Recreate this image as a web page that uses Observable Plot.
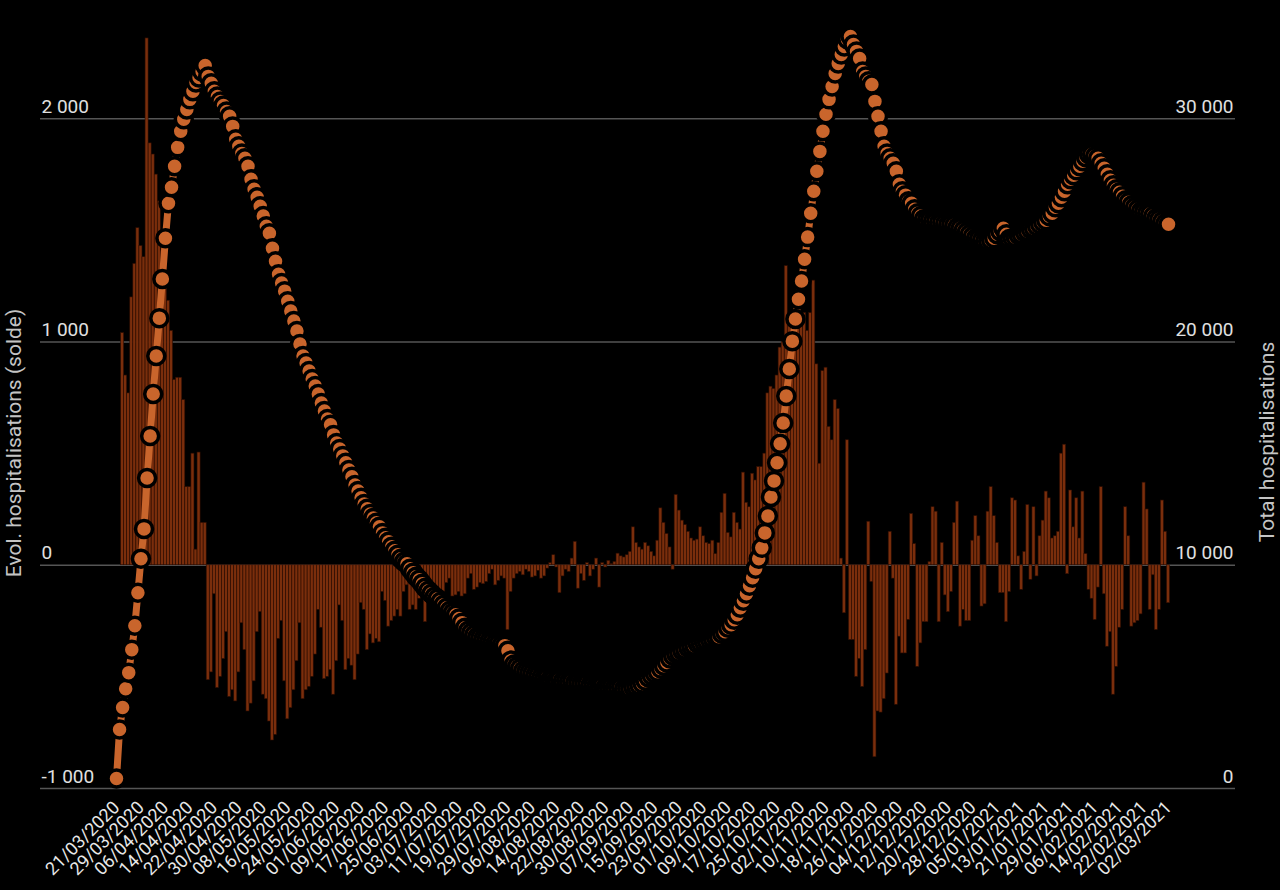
<!DOCTYPE html>
<html><head><meta charset="utf-8">
<script src="https://cdn.jsdelivr.net/npm/d3@7"></script>
<script src="https://cdn.jsdelivr.net/npm/@observablehq/plot@0.6"></script>
<style>
html,body{margin:0;padding:0;background:#000;}
#chart{width:1280px;height:890px;overflow:hidden;}
</style></head><body><div id="chart"></div>
<script>
const tickLabels = ["21/03/2020","29/03/2020","06/04/2020","14/04/2020","22/04/2020","30/04/2020","08/05/2020","16/05/2020","24/05/2020","01/06/2020","09/06/2020","17/06/2020","25/06/2020","03/07/2020","11/07/2020","19/07/2020","29/07/2020","06/08/2020","14/08/2020","22/08/2020","30/08/2020","07/09/2020","15/09/2020","23/09/2020","01/10/2020","09/10/2020","17/10/2020","25/10/2020","02/11/2020","10/11/2020","18/11/2020","26/11/2020","04/12/2020","12/12/2020","20/12/2020","28/12/2020","05/01/2021","13/01/2021","21/01/2021","29/01/2021","06/02/2021","14/02/2021","22/02/2021","02/03/2021"];

const evolSolde = [
0,0,1040,850,770,1200,1350,1510,1430,1380,
2360,1890,1840,1750,1630,1410,1275,1185,1050,830,
840,840,740,350,350,500,70,505,190,190,
-515,-480,-130,-550,-500,-420,-300,-590,-560,-610,
-480,-260,-380,-655,-620,-520,-300,-210,-580,-600,
-700,-785,-760,-330,-250,-520,-690,-640,-560,-430,
-260,-600,-560,-545,-500,-400,-200,-280,-510,-500,
-470,-580,-430,-180,-250,-470,-420,-450,-515,-400,
-170,-200,-380,-310,-350,-330,-345,-120,-160,-275,
-250,-230,-200,-230,-120,-90,-200,-180,-200,-150,
-120,-255,-160,-100,-130,-135,-125,-130,-80,-60,
-140,-135,-120,-140,-130,-60,-40,-110,-100,-80,
-85,-75,-40,-20,-90,-70,-50,-60,-290,-120,
-60,-40,-30,-45,-20,-30,-55,-50,-25,-60,
-50,-15,10,45,-10,-125,-50,-20,-30,30,
105,-105,-40,-70,10,-50,-20,30,-100,10,
-10,20,5,15,52,40,35,45,60,170,
100,80,70,100,85,60,40,110,255,190,
140,80,-20,315,245,200,180,150,120,110,
115,170,130,100,95,110,50,100,235,320,
145,125,235,190,160,415,280,260,410,380,
440,440,500,770,800,790,850,975,1000,1340,
1100,950,1050,1100,1130,1130,1050,1130,1275,900,
455,870,885,620,560,740,700,30,-215,560,
-335,-335,-500,-420,-545,-380,195,-75,-860,-655,
-660,-600,-485,150,-60,-625,-320,-395,-395,-245,
230,95,-455,-350,-255,-255,15,260,240,-255,
100,-135,-210,-120,190,285,-275,-200,-250,-250,
110,220,130,-185,-175,240,350,220,100,-125,
-125,-255,-120,300,290,40,-110,60,270,-65,
260,-50,130,200,330,300,120,130,150,500,
540,-40,335,170,300,120,330,50,-110,-150,
-245,-100,350,-130,-365,-300,-580,-455,-280,-200,
260,130,-275,-260,-250,-220,370,250,-200,-45,
-290,-200,290,150,-170
];

const totalHosp = [
447,2640,3625,4470,5190,6220,7290,8770,10290,11630,
13910,15790,17670,19370,21070,22820,24650,26220,26930,27870,
28720,29440,29980,30420,30870,31230,31630,31850,32120,32390,
31900,31590,31230,31000,30780,30600,30330,30110,29660,29080,
28770,28450,28230,27870,27290,26840,26490,26080,25640,25190,
24870,24200,23620,23040,22640,22280,21830,21390,20940,20490,
19910,19370,19060,18700,18340,18030,17670,17270,16910,16550,
16290,15840,15480,15210,14900,14590,14270,13960,13600,13330,
13020,12750,12530,12300,12120,11900,11720,11450,11230,11050,
10830,10650,10470,10290,10160,10070,9840,9660,9490,9350,
9170,8990,8860,8720,8590,8500,8370,8230,8100,7960,
7870,7780,7610,7430,7200,7070,6980,6890,6800,6760,
6710,6670,6620,6580,6530,6490,6440,6400,6170,5730,
5550,5460,5370,5280,5230,5190,5150,5100,5060,5010,
4970,4970,4920,4920,4880,4880,4830,4830,4790,4790,
4740,4740,4700,4700,4700,4650,4650,4610,4610,4610,
4560,4560,4560,4520,4520,4520,4470,4470,4470,4520,
4560,4610,4700,4830,4970,5060,5150,5230,5370,5500,
5640,5820,5950,6040,6080,6170,6220,6310,6350,6400,
6490,6530,6580,6620,6670,6710,6760,6800,6930,7020,
7200,7340,7560,7780,8100,8410,8720,9080,9440,9840,
10290,10780,11450,12210,13060,13780,14590,15440,16370,17580,
18790,20040,21030,21920,22730,23710,24700,25770,26750,27650,
28540,29440,30200,30870,31450,32030,32480,32880,33240,33560,
33690,33330,33020,32700,32120,31900,31680,31540,30780,30110,
29440,28770,28450,28230,28010,27650,27070,26750,26580,26310,
26220,25950,25770,25640,25500,25460,25460,25410,25410,25370,
25370,25320,25280,25280,25230,25140,25100,25010,24920,24830,
24740,24650,24610,24560,24520,24520,24560,24650,24830,24960,
25100,24830,24610,24650,24700,24790,24830,24920,24960,25050,
25100,25190,25280,25370,25460,25640,25770,26040,26220,26490,
26750,27070,27290,27470,27690,27870,28100,28280,28410,28410,
28320,28230,28010,27780,27520,27250,27020,26840,26710,26530,
26350,26260,26130,26040,25950,25860,25820,25770,25730,25640,
25550,25500,25410,25320,25280
];

const leftTitle = "Evol. hospitalisations (solde)";
const rightTitle = "Total hospitalisations";
const leftTicks = [-1000, 0, 1000, 2000];

// secondary axis: total = 10 * solde + 10000
const toLeft = t => (t - 10000) / 10;
const fmtNum = v => (v < 0 ? "-" : "") + d3.format(",")(Math.abs(v)).replace(/,/g, " ");

const rows = evolSolde.map((v, i) => ({i, evol: v, total: totalHosp[i]}));
const tickIdx = tickLabels.map((_, k) => k * 8);

const orange = "#c9652c";

const chart = Plot.plot({
  width: 1280,
  height: 890,
  marginLeft: 40,
  marginRight: 45,
  marginTop: 29,
  marginBottom: 102,
  style: {background: "#000", color: "#e0e0e0", fontFamily: "Roboto, sans-serif"},
  x: {domain: [-24.85, 365.9], axis: null},
  y: {domain: [-1000, 2400], axis: null},
  marks: [
    Plot.gridY(leftTicks, {stroke: "#555", strokeOpacity: 1, strokeWidth: 1.5}),
    Plot.rectY(rows, {x1: d => d.i - 0.5, x2: d => d.i + 0.5, y1: 0, y2: "evol", fill: "#7a2e0c", stroke: "#2a0c02", strokeWidth: 0.6}),
    Plot.line(rows, {x: "i", y: d => toLeft(d.total), stroke: orange, strokeWidth: 7}),
    Plot.dot(rows, {x: "i", y: d => toLeft(d.total), r: 8.5, fill: orange, stroke: "#000", strokeWidth: 3.5}),
    Plot.axisY(leftTicks, {anchor: "left", tickSize: 0, tickPadding: 0, textAnchor: "start", lineAnchor: "bottom", dx: 1, dy: -6, tickFormat: fmtNum, fontSize: 19, fill: "#e0e0e0", label: null}),
    Plot.axisY(leftTicks, {anchor: "right", tickSize: 0, tickPadding: 0, textAnchor: "end", lineAnchor: "bottom", dx: -2, dy: -6, tickFormat: d => fmtNum((d + 1000) * 10), fontSize: 19, fill: "#e0e0e0", label: null}),
    Plot.axisX(tickIdx, {anchor: "bottom", tickSize: 0, tickPadding: 16, tickRotate: -45, tickFormat: d => tickLabels[d / 8], fontSize: 18, fill: "#e8e8e8", label: null}),
    Plot.text([leftTitle], {frameAnchor: "left", textAnchor: "middle", rotate: -90, dx: -26, dy: 34, fill: "#c4c4c4", fontSize: 21}),
    Plot.text([rightTitle], {frameAnchor: "right", textAnchor: "middle", rotate: -90, dx: 32, dy: 33, fill: "#c4c4c4", fontSize: 21})
  ]
});
document.getElementById("chart").appendChild(chart);
</script>
</body></html>
